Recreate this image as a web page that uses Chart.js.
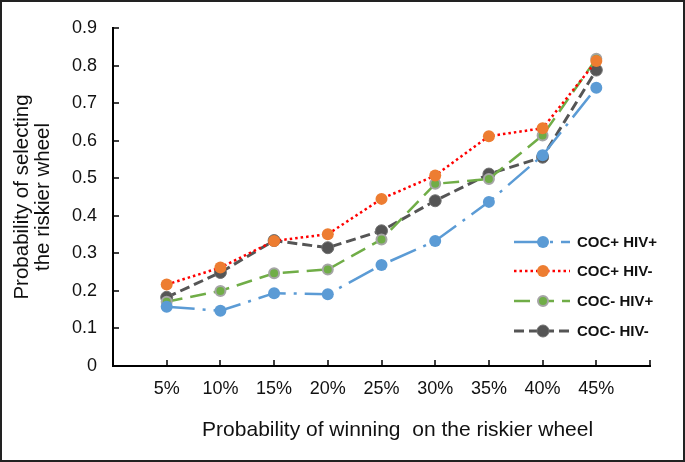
<!DOCTYPE html>
<html>
<head>
<meta charset="utf-8">
<script src="https://cdn.jsdelivr.net/npm/chart.js@4"></script>
<style>
  html,body{margin:0;padding:0;background:#fff;}
  #wrap{width:685px;height:462px;position:relative;}
</style>
</head>
<body>
<div id="wrap"><canvas id="c" width="685" height="462"></canvas></div>
<script>
// tick labels for the x axis (probability of winning)
var labels = ['5%','10%','15%','20%','25%','30%','35%','40%','45%'];
// y values
var cocPosHivPos = [0.158, 0.147, 0.194, 0.191, 0.269, 0.333, 0.437, 0.561, 0.741];
var cocPosHivNeg = [0.217, 0.262, 0.333, 0.351, 0.445, 0.507, 0.612, 0.633, 0.812];
var cocNegHivPos = [0.171, 0.200, 0.247, 0.257, 0.337, 0.485, 0.498, 0.614, 0.818];
var cocNegHivNeg = [0.183, 0.249, 0.334, 0.315, 0.360, 0.440, 0.511, 0.556, 0.788];
var names = ['COC+ HIV+','COC+ HIV-','COC- HIV+','COC- HIV-'];
var xTitle = 'Probability of winning  on the riskier wheel';

function pts(arr){ return arr.map(function(v,i){ return {x:i+1, y:v}; }); }

var FONT = "Arial, 'Liberation Sans', sans-serif";

// outer frame, inward tick marks, x axis title (sits a bit right of centre in the original)
var framePlugin = {
  id:'frame',
  afterDraw:function(chart){
    var ctx = chart.ctx, a = chart.chartArea;
    var xs = chart.scales.x, ys = chart.scales.y;
    ctx.save();
    ctx.strokeStyle = '#000'; ctx.lineWidth = 1.5;
    ctx.beginPath();
    for(var i=1;i<=10;i++){ var px = Math.round(xs.getPixelForValue(i)); ctx.moveTo(px, a.bottom); ctx.lineTo(px, a.bottom-6); }
    for(var j=0;j<=9;j++){ var py = Math.round(ys.getPixelForValue(j/10)); ctx.moveTo(a.left, py); ctx.lineTo(a.left+6, py); }
    ctx.stroke();
    ctx.fillStyle = '#111'; ctx.font = '21px ' + FONT;
    ctx.textAlign = 'center'; ctx.textBaseline = 'middle';
    ctx.fillText(xTitle, xs.getPixelForValue(5.3), 430);
    ctx.lineWidth = 2; ctx.strokeStyle = '#222';
    ctx.strokeRect(1,1,chart.width-2,chart.height-2);
    ctx.restore();
  }
};

// legend drawn inside the plot, right side
var legendPlugin = {
  id:'sideLegend',
  afterDraw:function(chart){
    var ctx = chart.ctx;
    var x0 = 514, x1 = 570, mx = 543, tx = 577;
    var ys = [242, 271, 301, 331];
    chart.data.datasets.forEach(function(ds, i){
      var y = ys[i];
      ctx.save();
      ctx.strokeStyle = ds.borderColor; ctx.lineWidth = ds.borderWidth;
      ctx.setLineDash(ds.borderDash || []);
      ctx.beginPath(); ctx.moveTo(x0, y); ctx.lineTo(x1, y); ctx.stroke();
      ctx.setLineDash([]);
      ctx.beginPath(); ctx.arc(mx, y, ds.pointRadius, 0, Math.PI*2);
      ctx.fillStyle = ds.pointBackgroundColor; ctx.fill();
      if(ds.pointBorderWidth){ ctx.lineWidth = ds.pointBorderWidth; ctx.strokeStyle = ds.pointBorderColor; ctx.stroke(); }
      ctx.fillStyle = '#111'; ctx.font = 'bold 15px ' + FONT;
      ctx.textBaseline = 'middle'; ctx.textAlign = 'left';
      ctx.fillText(names[i], tx, y+1);
      ctx.restore();
    });
  }
};

new Chart(document.getElementById('c'), {
  type:'line',
  data:{ datasets:[
    {label:names[0], data:pts(cocPosHivPos), borderColor:'#5B9BD5', borderWidth:2.5, borderDash:[28,8,3,8],
     pointRadius:6, pointBackgroundColor:'#5B9BD5', pointBorderColor:'#5B9BD5', pointBorderWidth:0, fill:false, tension:0},
    {label:names[1], data:pts(cocPosHivNeg), borderColor:'#FF0000', borderWidth:2.5, borderDash:[2.5,3],
     pointRadius:6, pointBackgroundColor:'#ED7D31', pointBorderColor:'#ED7D31', pointBorderWidth:0, fill:false, tension:0},
    {label:names[2], data:pts(cocNegHivPos), borderColor:'#70AD47', borderWidth:2.5, borderDash:[16,8],
     pointRadius:5, pointBackgroundColor:'#70AD47', pointBorderColor:'#A5A5A5', pointBorderWidth:2, fill:false, tension:0},
    {label:names[3], data:pts(cocNegHivNeg), borderColor:'#555555', borderWidth:3, borderDash:[10,5],
     pointRadius:6, pointBackgroundColor:'#555555', pointBorderColor:'#707070', pointBorderWidth:1, fill:false, tension:0}
  ]},
  options:{
    responsive:false, animation:false, devicePixelRatio:1,
    layout:{ padding:{ top:28, right:35, bottom:0, left:0 } },
    plugins:{ legend:{display:false}, tooltip:{enabled:false} },
    scales:{
      x:{ type:'linear', min:0, max:10,
        afterFit:function(s){ s.height = 96; },
        grid:{ display:false, drawTicks:false },
        border:{ display:true, color:'#000', width:2 },
        ticks:{ stepSize:1, autoSkip:false, padding:12, color:'#111', font:{family:FONT, size:18},
          callback:function(v){ return labels[v-1] || ''; } },
        title:{ display:false }
      },
      y:{ min:0, max:0.9,
        afterFit:function(s){ s.width = 113; },
        grid:{ display:false, drawTicks:false },
        border:{ display:true, color:'#000', width:2 },
        ticks:{ stepSize:0.1, padding:16, color:'#111', font:{family:FONT, size:18},
          callback:function(v){ return String(Number(v.toFixed(1))); } },
        title:{ display:true, text:['Probability of selecting','the riskier wheel'], color:'#111',
          font:{family:FONT, size:20.5, lineHeight:1}, padding:{top:12.5, bottom:0} }
      }
    }
  },
  plugins:[framePlugin, legendPlugin]
});
</script>
</body>
</html>
